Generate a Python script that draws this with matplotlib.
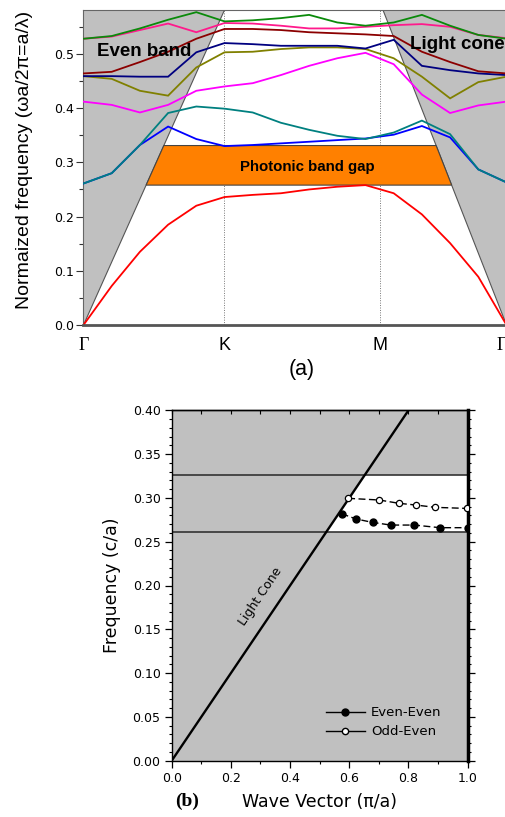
import numpy as np
import matplotlib
matplotlib.use("Agg")
import matplotlib.pyplot as plt
from matplotlib.lines import Line2D
from matplotlib.patches import Polygon
from matplotlib.ticker import MultipleLocator, FormatStrFormatter

# ---------------- (a) band diagram along Γ-K-M-Γ ----------------
k_index = np.arange(16)
sym_pos = [0, 5, 10.5, 15]
sym_labels = ["Γ", "K", "M", "Γ"]

band_red = [0.000, 0.072, 0.135, 0.185, 0.220, 0.236, 0.240, 0.243, 0.250, 0.255, 0.258, 0.243, 0.204, 0.151, 0.089, 0.000]
band_blue = [0.261, 0.280, 0.332, 0.366, 0.343, 0.330, 0.332, 0.335, 0.338, 0.341, 0.344, 0.351, 0.367, 0.346, 0.287, 0.263]
band_teal = [0.261, 0.280, 0.332, 0.391, 0.403, 0.399, 0.392, 0.373, 0.360, 0.349, 0.343, 0.355, 0.377, 0.352, 0.287, 0.263]
band_magenta = [0.412, 0.406, 0.392, 0.406, 0.432, 0.440, 0.446, 0.461, 0.478, 0.492, 0.502, 0.481, 0.425, 0.391, 0.405, 0.412]
band_olive = [0.459, 0.454, 0.432, 0.423, 0.475, 0.503, 0.504, 0.509, 0.512, 0.512, 0.509, 0.492, 0.458, 0.418, 0.448, 0.458]
band_navy = [0.459, 0.459, 0.458, 0.458, 0.503, 0.520, 0.518, 0.515, 0.515, 0.515, 0.510, 0.526, 0.478, 0.470, 0.464, 0.461]
band_darkred = [0.464, 0.467, 0.485, 0.504, 0.528, 0.546, 0.546, 0.544, 0.540, 0.538, 0.536, 0.533, 0.504, 0.485, 0.468, 0.464]
band_pink = [0.528, 0.532, 0.544, 0.556, 0.540, 0.557, 0.556, 0.552, 0.547, 0.547, 0.550, 0.553, 0.555, 0.550, 0.535, 0.529]
band_green = [0.528, 0.533, 0.547, 0.563, 0.577, 0.560, 0.562, 0.566, 0.572, 0.558, 0.552, 0.558, 0.572, 0.552, 0.535, 0.528]

bands = [
    (band_red, "#ff0000"),
    (band_blue, "#0000ff"),
    (band_teal, "#008080"),
    (band_magenta, "#ff00ff"),
    (band_olive, "#808000"),
    (band_navy, "#000080"),
    (band_darkred, "#8b0000"),
    (band_pink, "#ff1a8c"),
    (band_green, "#0a8a0a"),
]

# light line endpoints on the left (Γ→K) and right (M→Γ) branches
light_left_k = [0.0, 5.0]
light_left_w = [0.0, 0.581]
light_right_k = [10.62, 15.0]
light_right_w = [0.581, 0.0]

gap_a = (0.258, 0.331)
w_top = 0.581

# ---------------- (b) guided modes vs wave vector ----------------
kb_light = [0.0, 0.8]
fb_light = [0.0, 0.40]
gap_b = (0.261, 0.326)
kb_even = [0.574, 0.622, 0.679, 0.740, 0.820, 0.906, 1.000]
fb_even = [0.282, 0.276, 0.272, 0.269, 0.269, 0.266, 0.266]
kb_odd = [0.596, 0.701, 0.768, 0.824, 0.890, 0.997]
fb_odd = [0.2995, 0.2976, 0.2938, 0.2919, 0.2892, 0.2880]

W, H = 506, 817
fig = plt.figure(figsize=(W / 100, H / 100), dpi=100)
fig.patch.set_facecolor("white")

sans = "Liberation Sans"

# ================= panel (a) =================
ax = fig.add_axes([83.5 / W, 1 - 325 / H, (506.5 - 83.5) / W, 315 / H])
ax.set_xlim(0, 15)
ax.set_ylim(0, w_top)

sl = light_left_w[1] / light_left_k[1]
sr = light_right_w[0] / (light_right_k[1] - light_right_k[0])
kR = light_right_k[1]

# light-cone regions
ax.add_patch(Polygon([(light_left_k[0], light_left_w[0]), (light_left_k[1], light_left_w[1]),
                      (0, w_top)], closed=True, facecolor="#c0c0c0", edgecolor="none", zorder=1))
ax.add_patch(Polygon([(light_right_k[1], light_right_w[1]), (light_right_k[0], light_right_w[0]),
                      (kR + 1, w_top), (kR + 1, 0)], closed=True, facecolor="#c0c0c0",
                     edgecolor="none", zorder=1))
ax.plot(light_left_k, light_left_w, color="#555555", lw=0.8, zorder=2)
ax.plot(light_right_k, light_right_w, color="#555555", lw=0.8, zorder=2)

# photonic band gap bounded by the light lines
lo, hi = gap_a
gap_poly = [(lo / sl, lo), (kR - lo / sr, lo), (kR - hi / sr, hi), (hi / sl, hi)]
ax.add_patch(Polygon(gap_poly, closed=True, facecolor="#ff8000", edgecolor="#444444",
                     lw=0.8, zorder=3))

# symmetry-point guides
for xp in sym_pos[1:3]:
    ax.axvline(xp, color="#777777", lw=0.7, ls=(0, (1, 1.5)), zorder=2)

for vals, col in bands:
    ax.plot(k_index, vals, color=col, lw=1.3, zorder=4, solid_joinstyle="miter")

ax.text(0.49, 0.504, "Even band", fontsize=13.5, fontweight="bold", family=sans,
        ha="left", va="center", zorder=6)
ax.text(11.58, 0.518, "Light cone", fontsize=13.5, fontweight="bold", family=sans,
        ha="left", va="center", zorder=6)
ax.text(7.94, 0.292, "Photonic band gap", fontsize=10.8, fontweight="bold", family=sans,
        ha="center", va="center", zorder=6)

ax.yaxis.set_major_locator(MultipleLocator(0.1))
ax.yaxis.set_minor_locator(MultipleLocator(0.05))
ax.yaxis.set_major_formatter(FormatStrFormatter("%.1f"))
ax.tick_params(axis="y", which="major", direction="out", length=5, width=0.8,
               color="#333333", labelsize=9, pad=2)
ax.tick_params(axis="y", which="minor", direction="out", length=3, width=0.8, color="#333333")
for lab in ax.get_yticklabels():
    lab.set_family("DejaVu Sans")

ax.set_xticks(sym_pos)
ax.set_xticklabels(sym_labels)
ax.tick_params(axis="x", length=0, pad=9, labelsize=13)
xlabs = ax.get_xticklabels()
for lab, txt in zip(xlabs, sym_labels):
    lab.set_family("Liberation Serif" if txt == "Γ" else sans)
xlabs[-1].set_horizontalalignment("right")

for side in ["left", "top", "right"]:
    ax.spines[side].set_color("#666666")
    ax.spines[side].set_linewidth(0.8)
ax.spines["bottom"].set_color("#555555")
ax.spines["bottom"].set_linewidth(2.0)
ax.spines["bottom"].set_zorder(7)

fig.text(25 / W, 1 - 160 / H, "Normaized frequency (ωa/2π=a/λ)", rotation=90,
         ha="center", va="center", fontsize=14, family=sans)
fig.text(302 / W, 1 - 370 / H, "(a)", ha="center", va="center", fontsize=15.5, family=sans)

# ================= panel (b) =================
bx = fig.add_axes([171.7 / W, 1 - 760.7 / H, 296 / W, 350.4 / H])
bx.set_xlim(0, 1)
bx.set_ylim(0, 0.40)
bx.set_facecolor("#c0c0c0")

blo, bhi = gap_b
sb = fb_light[1] / kb_light[1]
bx.add_patch(Polygon([(blo / sb, blo), (1, blo), (1, bhi), (bhi / sb, bhi)], closed=True,
                     facecolor="white", edgecolor="none", zorder=1))
bx.axhline(blo, color="#333333", lw=1.2, zorder=2)
bx.axhline(bhi, color="#333333", lw=1.2, zorder=2)
bx.plot(kb_light, fb_light, color="black", lw=1.7, zorder=3)

bx.plot(kb_even, fb_even, color="black", lw=1.0, ls=(0, (5, 2.5)), marker="o",
        ms=5, mfc="black", mec="black", zorder=4)
bx.plot(kb_odd, fb_odd, color="black", lw=1.0, ls=(0, (5, 2.5)), marker="o",
        ms=4.5, mfc="white", mec="black", mew=0.9, zorder=4)

bx.text(0.30, 0.187, "Light Cone", rotation=56, ha="center", va="center",
        fontsize=9, family="DejaVu Sans", zorder=5)

handles = [
    Line2D([], [], color="black", lw=1.0, marker="o", ms=5, mfc="black", mec="black"),
    Line2D([], [], color="black", lw=1.0, marker="o", ms=4.5, mfc="white", mec="black"),
]
bx.legend(handles, ["Even-Even", "Odd-Even"], loc="lower left",
          bbox_to_anchor=(0.482, 0.03), frameon=False,
          handlelength=2.9, handletextpad=0.5, labelspacing=0.45,
          prop={"family": "DejaVu Sans", "size": 9.5})

bx.xaxis.set_major_locator(MultipleLocator(0.2))
bx.xaxis.set_minor_locator(MultipleLocator(0.1))
bx.yaxis.set_major_locator(MultipleLocator(0.05))
bx.yaxis.set_minor_locator(MultipleLocator(0.01))
bx.xaxis.set_major_formatter(FormatStrFormatter("%.1f"))
bx.yaxis.set_major_formatter(FormatStrFormatter("%.2f"))
bx.tick_params(which="major", direction="out", length=5, width=0.9, labelsize=9, pad=3,
               right=True, top=False)
bx.tick_params(which="minor", direction="out", length=2.5, width=0.8, right=True, top=False)
for lab in bx.get_xticklabels() + bx.get_yticklabels():
    lab.set_family("DejaVu Sans")

# small inward ticks along the top edge
top = bx.secondary_xaxis("top")
top.xaxis.set_major_locator(MultipleLocator(0.1))
top.tick_params(direction="in", length=3, width=0.8, labeltop=False)
top.spines["top"].set_linewidth(1.0)

for side in ["left", "bottom", "top"]:
    bx.spines[side].set_linewidth(1.0)
bx.spines["right"].set_linewidth(2.5)

bx.set_xlabel("Wave Vector (π/a)", fontsize=12.5, family="DejaVu Sans", labelpad=6)
bx.set_ylabel("Frequency (c/a)", fontsize=12.5, family="DejaVu Sans", labelpad=8)
fig.text(187 / W, 1 - 801 / H, "(b)", ha="center", va="center", fontsize=14,
         fontweight="bold", family="Liberation Serif")

fig.savefig("out.png", dpi=100)
